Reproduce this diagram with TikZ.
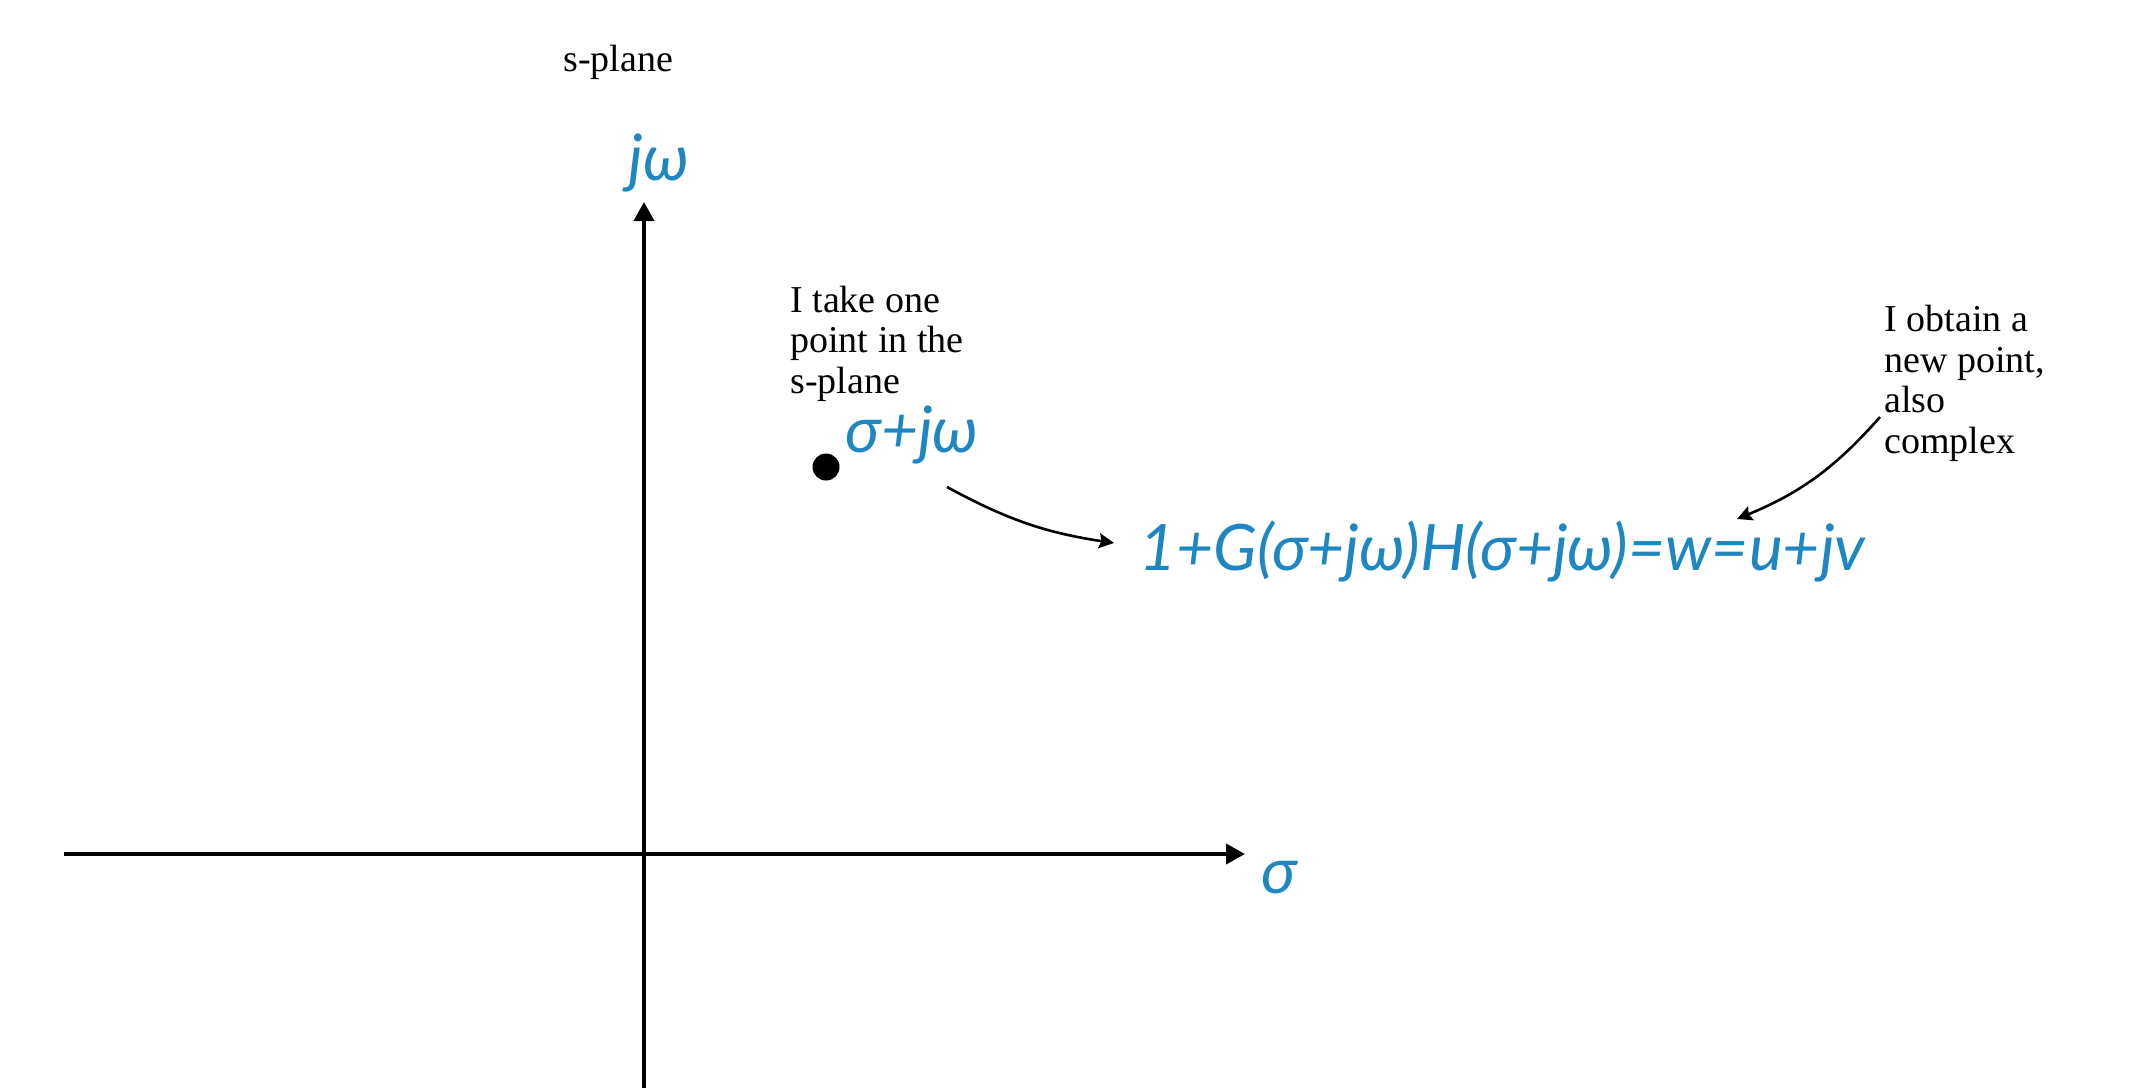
\documentclass[tikz,border=0pt]{standalone}
\usepackage{fontspec}
\setmainfont{Liberation Serif}
\newfontfamily\bluefont{Lato}
\usetikzlibrary{arrows.meta,positioning}
\definecolor{planeblue}{RGB}{30,134,192}
\tikzset{
  axis/.style={line width=2pt,-{Triangle[length=9.5pt,width=10pt]}},
  remark/.style={font=\fontsize{19}{20.2}\selectfont,align=left,inner sep=0pt,anchor=base west},
  bluelabel/.style={font=\bluefont\itshape\fontsize{32}{34}\selectfont,text=planeblue,inner sep=0pt},
  pointer/.style={line width=1.3pt,-{Stealth[length=7.5pt,width=7.5pt,inset=1.2pt]}},
  spot/.style={circle,fill=black,inner sep=0pt,minimum size=13.5pt}
}
\begin{document}
\begin{tikzpicture}[x=0.5pt,y=-0.5pt]
\useasboundingbox (0,0) rectangle (2144,1088);

% to draw the axes
\coordinate (xleft) at (64,854);
\coordinate (xright) at (1245,854);
\coordinate (ybottom) at (644,1088);
\coordinate (ytop) at (644,202);
\draw [axis] (xleft) -- (xright);
\draw [axis] (ybottom) -- (ytop);

% to write axis labels
\node [remark] (splane) at (563,71) {s-plane};
\node [bluelabel] (jwlab) at (659,163) {jω};
\node [bluelabel] (sigmalab) at (1279,878) {σ};

%point in the s-plane:
\node [spot] (pt) at (826,467) {};
\node [bluelabel,anchor=base west] (ptlab) at (845,452) {σ+jω};
\node [remark] (take) at (790,393) {I take one\\point in the\\s-plane};

%mapped point:
\node [bluelabel,anchor=base west] (formula) at (1139,570) {1+G(σ+jω)H(σ+jω)=w=u+jv};
\node [remark] (obtain) at (1884,453) {I obtain a\\new point,\\also\\complex};

% to draw arrows
\coordinate (fromA) at (947,487);
\coordinate (toA) at (1114,543);
\draw [pointer] (fromA) to[bend right=10] (toA);
\coordinate (fromB) at (1880,417);
\coordinate (toB) at (1737,519);
\draw [pointer] (fromB) to[bend left=13] (toB);
\end{tikzpicture}
\end{document}
